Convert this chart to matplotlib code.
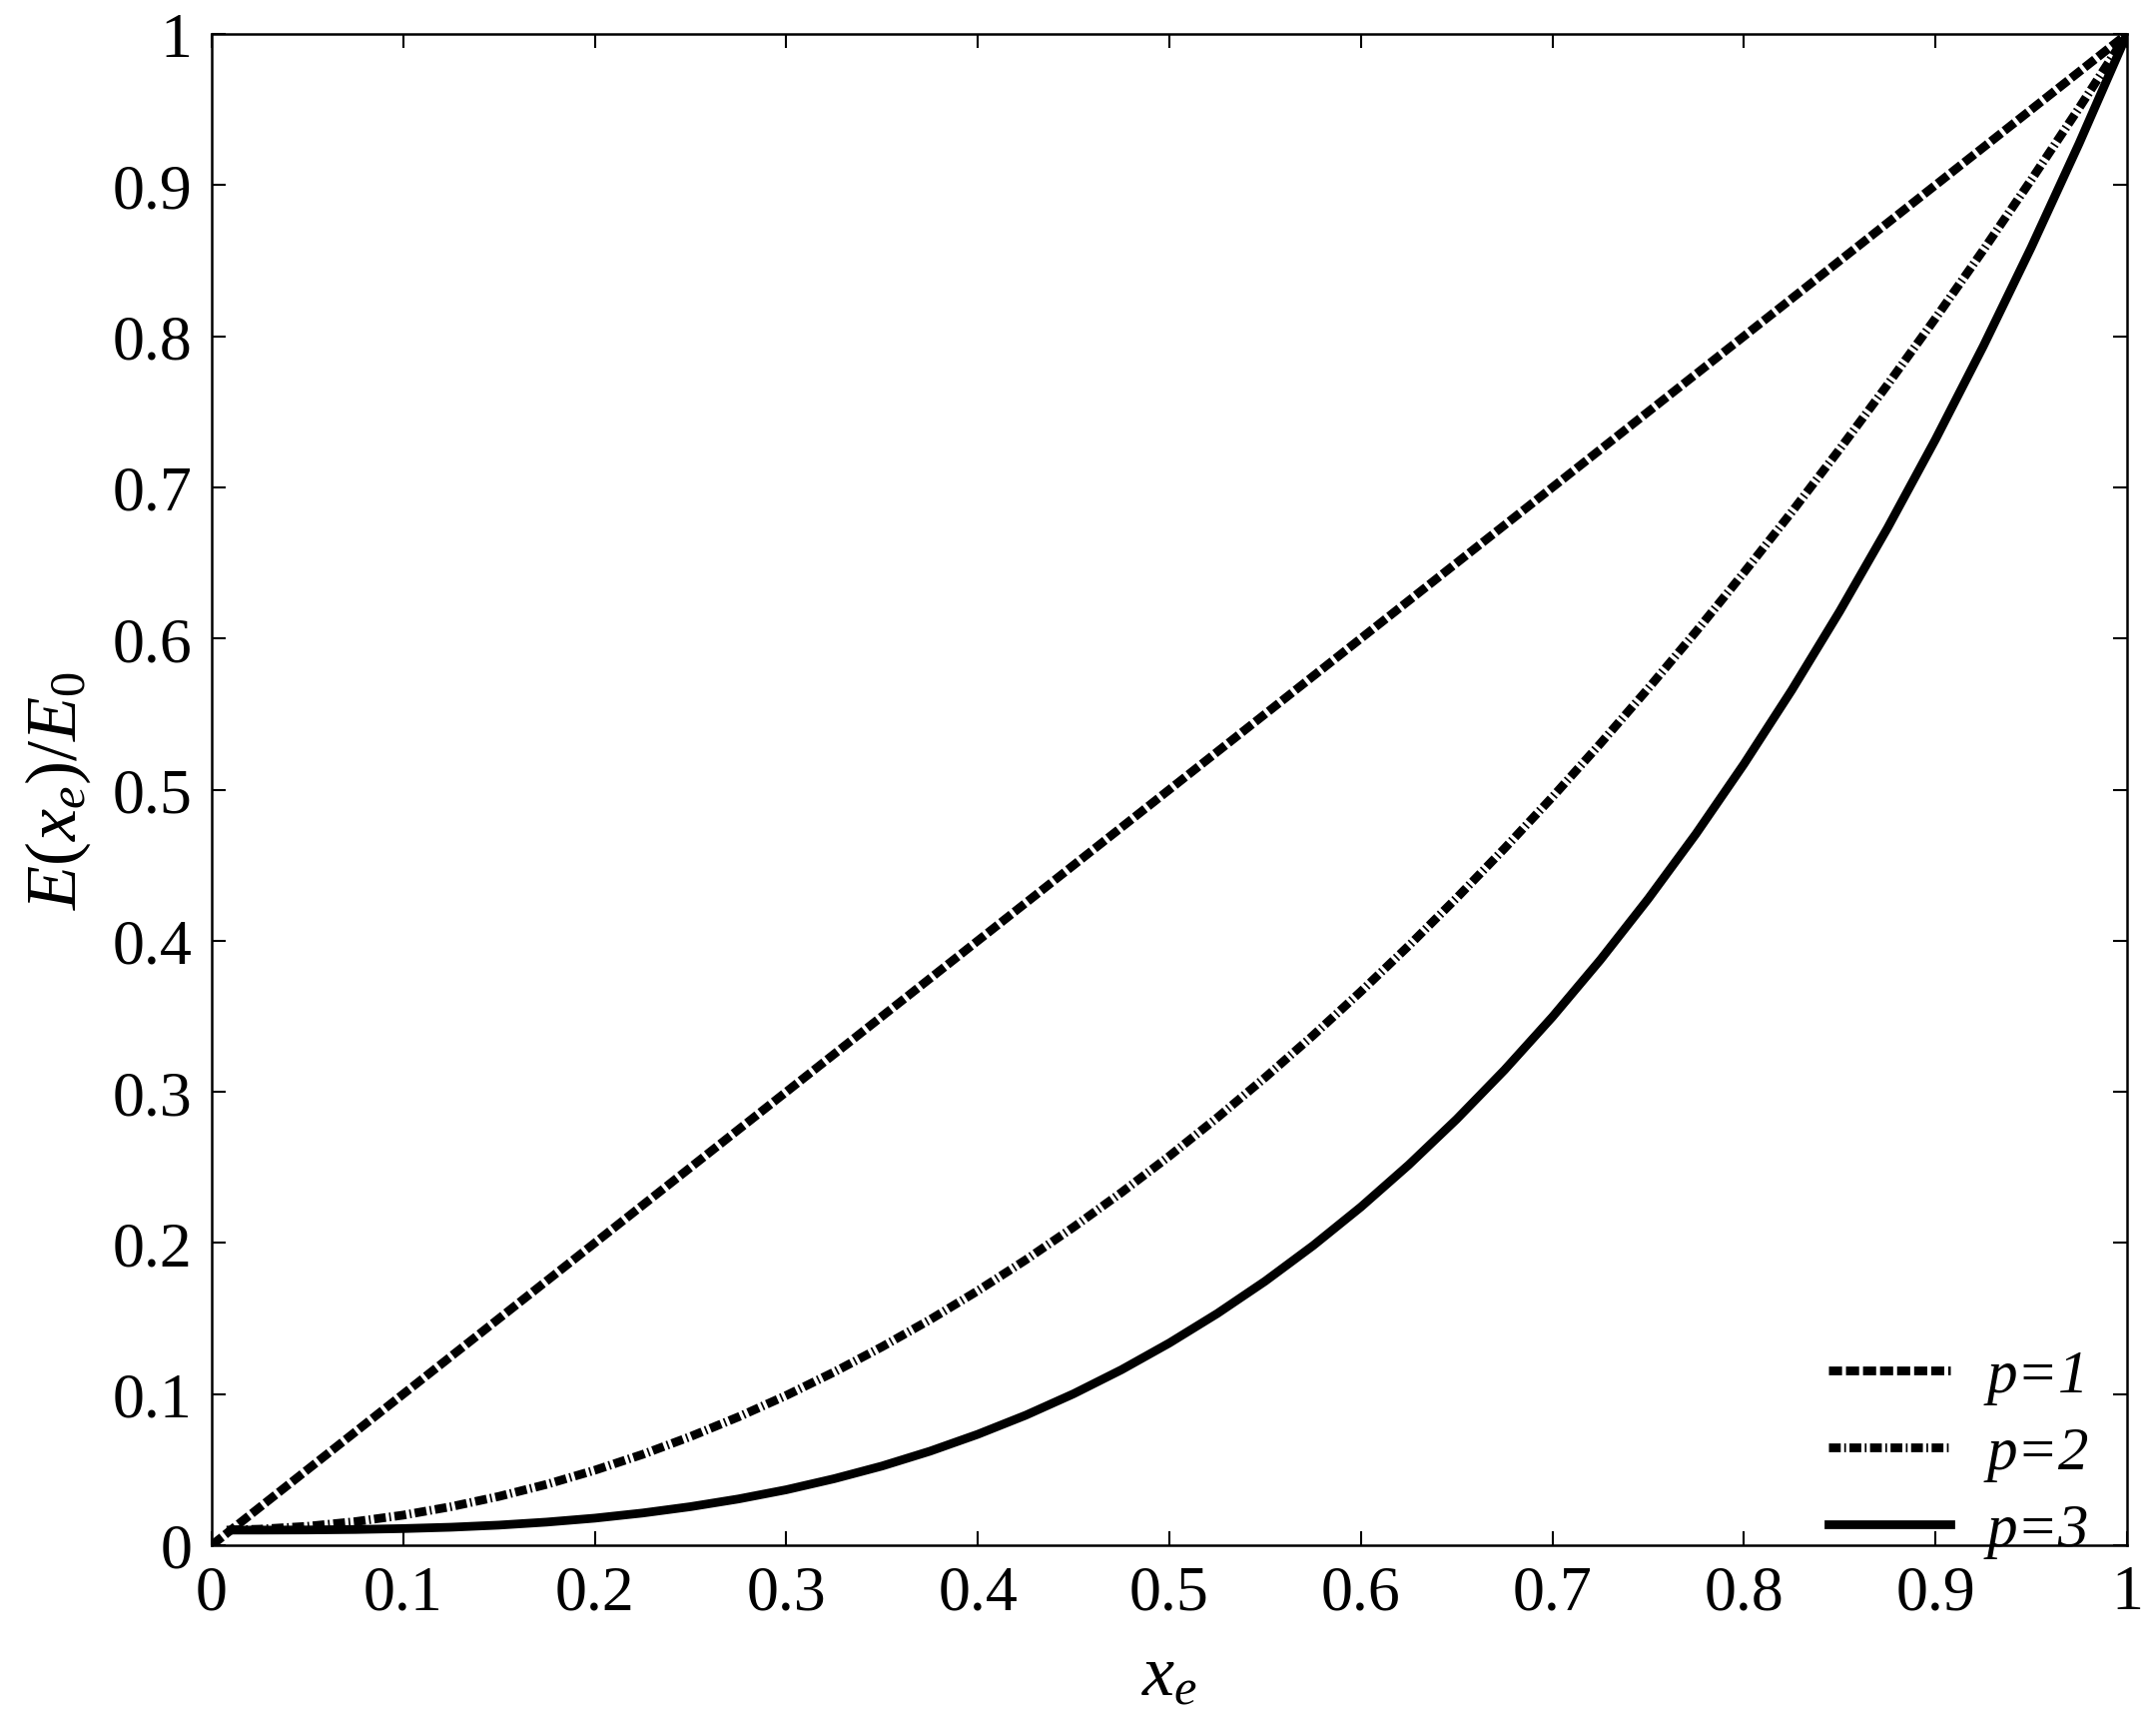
import matplotlib
matplotlib.use('Agg')
import matplotlib.pyplot as plt

plt.rcParams['font.family'] = 'Liberation Serif'
plt.rcParams['mathtext.fontset'] = 'custom'
plt.rcParams['mathtext.it'] = 'Liberation Serif:italic'
plt.rcParams['mathtext.rm'] = 'Liberation Serif'

# values
x_p1 = [0.0, 0.25, 0.5, 0.75, 1.0]
y_p1 = [0.0, 0.25, 0.5, 0.75, 1.0]

x_curve = [0.01, 0.025, 0.05, 0.075, 0.1, 0.125, 0.15, 0.175, 0.2, 0.225,
           0.25, 0.275, 0.3, 0.325, 0.35, 0.375, 0.4, 0.425, 0.45, 0.475,
           0.5, 0.525, 0.55, 0.575, 0.6, 0.625, 0.65, 0.675, 0.7, 0.725,
           0.75, 0.775, 0.8, 0.825, 0.85, 0.875, 0.9, 0.925, 0.95, 0.975, 1.0]
y_p2 = [0.0101, 0.0106, 0.0125, 0.0156, 0.0199, 0.0255, 0.0323, 0.0403, 0.0496, 0.0601,
        0.0719, 0.0849, 0.0991, 0.1146, 0.1313, 0.1492, 0.1684, 0.1888, 0.2105, 0.2334,
        0.2575, 0.2829, 0.3095, 0.3373, 0.3664, 0.3967, 0.4283, 0.4611, 0.4951, 0.5304,
        0.5669, 0.6046, 0.6436, 0.6838, 0.7253, 0.7680, 0.8119, 0.8571, 0.9035, 0.9511, 1.0]
y_p3 = [0.0100, 0.0100, 0.0101, 0.0104, 0.0110, 0.0119, 0.0133, 0.0153, 0.0179, 0.0213,
        0.0255, 0.0306, 0.0367, 0.0440, 0.0524, 0.0622, 0.0734, 0.0860, 0.1002, 0.1161,
        0.1338, 0.1533, 0.1747, 0.1982, 0.2238, 0.2517, 0.2819, 0.3145, 0.3496, 0.3873,
        0.4277, 0.4708, 0.5169, 0.5659, 0.6180, 0.6732, 0.7317, 0.7935, 0.8588, 0.9276, 1.0]

ticks = [0, 0.1, 0.2, 0.3, 0.4, 0.5, 0.6, 0.7, 0.8, 0.9, 1]
tick_labels = ['0', '0.1', '0.2', '0.3', '0.4', '0.5', '0.6', '0.7', '0.8', '0.9', '1']

fig = plt.figure(figsize=(21.59, 17.33), dpi=100)
ax = fig.add_axes([212 / 2159, 1 - 1548 / 1733, (2130 - 212) / 2159, (1548 - 35) / 1733])

lw = 6.3
ax.plot(x_p1, y_p1, color='black', lw=lw, dashes=(1.5, 0.45), label='p=1')
ax.plot(x_curve, y_p2, color='black', lw=lw, dashes=(1.35, 0.4, 0.2, 0.4), label='p=2')
ax.plot(x_curve, y_p3, color='black', lw=lw, label='p=3')

ax.set_xlim(0, 1)
ax.set_ylim(0, 1)
ax.set_xticks(ticks)
ax.set_xticklabels(tick_labels)
ax.set_yticks(ticks)
ax.set_yticklabels(tick_labels)
ax.tick_params(direction='in', length=10, width=1.5, labelsize=46,
               top=True, right=True, pad=14)
for s in ax.spines.values():
    s.set_linewidth(1.8)

ax.set_xlabel('$x_e$', fontsize=52, labelpad=16)
ax.set_ylabel('$E(x_e)/E_0$', fontsize=52, labelpad=14)

leg = ax.legend(loc='lower right', bbox_to_anchor=(0.993, -0.025), frameon=False,
                handlelength=2.0,
                prop={'family': 'Liberation Serif', 'style': 'italic', 'size': 44},
                labelspacing=0.35, borderaxespad=0.0, handletextpad=0.6)

fig.savefig('out.png', dpi=100)
